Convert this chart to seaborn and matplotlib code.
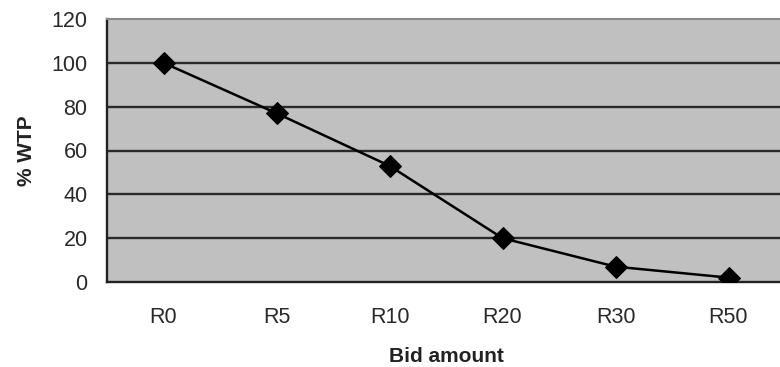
import matplotlib
matplotlib.use("Agg")
import matplotlib.pyplot as plt
from matplotlib.ticker import FixedLocator
import seaborn as sns
import pandas as pd

bids = ["R0", "R5", "R10", "R20", "R30", "R50"]
wtp = [100, 77, 53, 20, 7, 2]
y_ticks = [0, 20, 40, 60, 80, 100, 120]

sns.set_style("white")
plt.rcParams["font.family"] = ["Liberation Sans", "DejaVu Sans"]

df = pd.DataFrame({"bid": bids, "wtp": wtp})

fig = plt.figure(figsize=(7.8, 3.67), dpi=100)
ax = fig.add_axes([107 / 780, 85 / 367, 678 / 780, 263 / 367])
ax.set_facecolor("#c0c0c0")

sns.lineplot(data=df, x="bid", y="wtp", ax=ax, color="black", linewidth=1.8,
             marker="D", markersize=11, markeredgecolor="black", sort=False, zorder=5)

ax.set_ylim(0, 120)
ax.set_xlim(-0.5, len(bids) - 0.5)
ax.set_yticks(y_ticks)
ax.set_yticklabels([str(v) for v in y_ticks])
for v in y_ticks[1:-1]:
    ax.axhline(v, color="#2a2a2a", linewidth=1.7, zorder=1)

ax.set_xticks(range(len(bids)))
ax.set_xticklabels(bids)
ax.xaxis.set_minor_locator(FixedLocator([i + 0.5 for i in range(-1, len(bids))]))
ax.tick_params(axis="x", which="major", length=0, pad=18, labelsize=15.5, colors="#2a2a2a")
ax.tick_params(axis="x", which="minor", length=7, width=1.4, color="#222222", direction="out")
ax.tick_params(axis="y", which="major", length=7, width=1.4, color="#222222", direction="out",
               pad=7, labelsize=15.5, labelcolor="#2a2a2a")

for side in ["left", "bottom"]:
    ax.spines[side].set_color("#222222")
    ax.spines[side].set_linewidth(1.7)
ax.spines["top"].set_color("#8a8a8a")
ax.spines["top"].set_linewidth(1.5)
ax.spines["right"].set_visible(False)

ax.set_xlabel("Bid amount", fontsize=15, fontweight="bold", color="#222222", labelpad=14)
ax.set_ylabel("% WTP", fontsize=15, fontweight="bold", color="#222222", labelpad=11)

fig.savefig("out.png", dpi=100)
